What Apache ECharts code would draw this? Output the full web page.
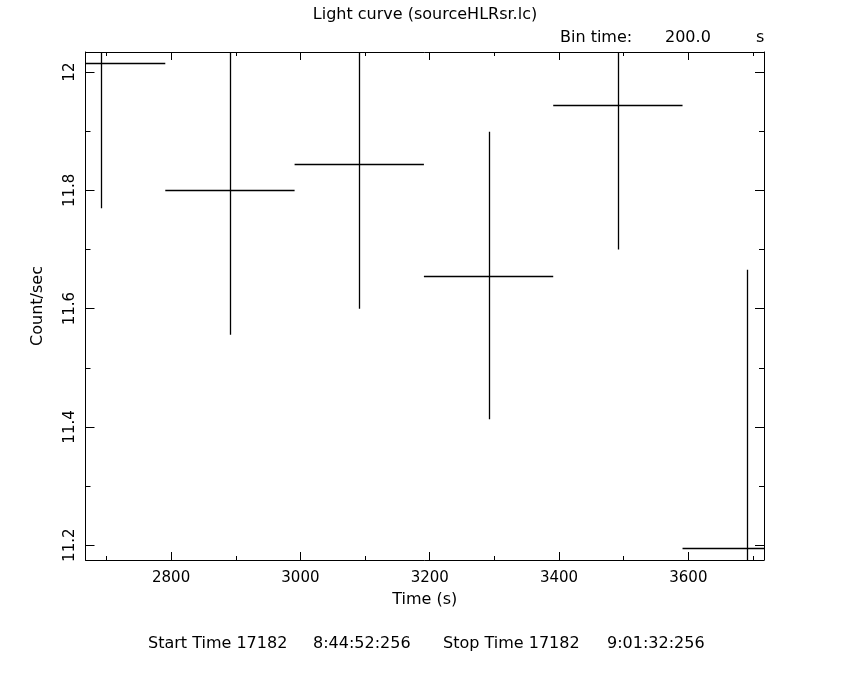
<!DOCTYPE html>
<html>
<head>
<meta charset="utf-8">
<script src="https://cdn.jsdelivr.net/npm/echarts@6/dist/echarts.min.js"></script>
<style>
html,body{margin:0;padding:0;background:#fff;}
#chart{width:850px;height:680px;}
</style>
</head>
<body>
<div id="chart"></div>
<script>
// Bin centres (s), count rates, 1-sigma errors, bin half-widths
var times = [2691, 2891, 3091, 3291, 3491, 3691];
var rates = [12.015, 11.800, 11.845, 11.656, 11.944, 11.195];
var errors = [0.245, 0.244, 0.245, 0.243, 0.244, 0.471];
var halfWidths = [100, 100, 100, 100, 100, 100];

var xMajorTicks = [2800, 3000, 3200, 3400, 3600];
var xMinorTicks = [2700, 2900, 3100, 3300, 3500, 3700];
var yMajorTicks = [11.2, 11.4, 11.6, 11.8, 12.0];
var yMinorTicks = [11.3, 11.5, 11.7, 11.9];

var xRange = [2667.6, 3717];
var yRange = [11.175, 12.034];

var titleText = 'Light curve (sourceHLRsr.lc)';
var binText = 'Bin time:';
var binValue = '200.0';
var binUnit = 's';
var xName = 'Time (s)';
var yName = 'Count/sec';
var footerParts = ['Start Time 17182', '8:44:52:256', 'Stop Time 17182', '9:01:32:256'];

var FONT = 'DejaVu Sans';
var TFONT = '16px "' + FONT + '"';
var chart = echarts.init(document.getElementById('chart'), null, {renderer: 'canvas'});

var data = times.map(function (t, i) { return [t, rates[i], errors[i], halfWidths[i]]; });

function xAxisDef(pos, ticks, len, labels, line, name) {
  return {
    type: 'value', position: pos, min: xRange[0], max: xRange[1],
    axisLine: {show: line, onZero: false, lineStyle: {color: '#000', width: 1}},
    axisTick: {show: true, inside: true, length: len, customValues: ticks, lineStyle: {color: '#000', width: 1}},
    axisLabel: labels ? {show: true, customValues: ticks, color: '#000', fontFamily: FONT, fontSize: 15, margin: 11,
      formatter: function (v) { return String(Math.round(v)); }} : {show: false},
    splitLine: {show: false},
    name: name || '', nameLocation: 'middle', nameGap: 32,
    nameTextStyle: {color: '#000', fontFamily: FONT, fontSize: 16}
  };
}
function yAxisDef(pos, ticks, len, labels, line, name) {
  return {
    type: 'value', position: pos, min: yRange[0], max: yRange[1],
    axisLine: {show: line, onZero: false, lineStyle: {color: '#000', width: 1}},
    axisTick: {show: true, inside: true, length: len, customValues: ticks, lineStyle: {color: '#000', width: 1}},
    axisLabel: labels ? {show: true, customValues: ticks, color: '#000', fontFamily: FONT, fontSize: 15, margin: 8, rotate: 90,
      formatter: function (v) { return (Math.round(v * 10) / 10).toString(); }} : {show: false},
    splitLine: {show: false},
    name: name || '', nameLocation: 'middle', nameGap: 40, nameRotate: 90,
    nameTextStyle: {color: '#000', fontFamily: FONT, fontSize: 16}
  };
}

var footerX = [148, 313, 443, 607];

var option = {
  backgroundColor: '#fff',
  animation: false,
  grid: {left: 85.5, right: 86, top: 52, bottom: 120, containLabel: false},
  xAxis: [
    xAxisDef('bottom', xMajorTicks, 8, true, true, xName),
    xAxisDef('bottom', xMinorTicks, 4, false, false),
    xAxisDef('top', xMajorTicks, 8, false, true),
    xAxisDef('top', xMinorTicks, 4, false, false)
  ],
  yAxis: [
    yAxisDef('left', yMajorTicks, 9, true, true, yName),
    yAxisDef('left', yMinorTicks, 5, false, false),
    yAxisDef('right', yMajorTicks, 9, false, true),
    yAxisDef('right', yMinorTicks, 5, false, false)
  ],
  graphic: [
    {type: 'text', left: 'center', top: 7, style: {text: titleText, fill: '#000', font: TFONT}},
    {type: 'text', left: 560, top: 30, style: {text: binText, fill: '#000', font: TFONT}},
    {type: 'text', left: 665, top: 30, style: {text: binValue, fill: '#000', font: TFONT}},
    {type: 'text', left: 756, top: 30, style: {text: binUnit, fill: '#000', font: TFONT}}
  ].concat(footerParts.map(function (s, i) {
    return {type: 'text', left: footerX[i], top: 636, style: {text: s, fill: '#000', font: TFONT}};
  })),
  series: [{
    type: 'custom',
    xAxisIndex: 0, yAxisIndex: 0,
    clip: true,
    data: data,
    renderItem: function (params, api) {
      var t = api.value(0), r = api.value(1), e = api.value(2), h = api.value(3);
      var a = api.coord([t - h, r]), b = api.coord([t + h, r]);
      var c = api.coord([t, r + e]), d = api.coord([t, r - e]);
      var yy = Math.round(a[1]) + 0.5, xx = Math.round(c[0]) + 0.5;
      var st = {stroke: '#000', lineWidth: 1.3};
      return {type: 'group', children: [
        {type: 'line', shape: {x1: a[0], y1: yy, x2: b[0], y2: yy}, style: st},
        {type: 'line', shape: {x1: xx, y1: c[1], x2: xx, y2: d[1]}, style: st}
      ]};
    }
  }]
};
chart.setOption(option);
</script>
</body>
</html>
